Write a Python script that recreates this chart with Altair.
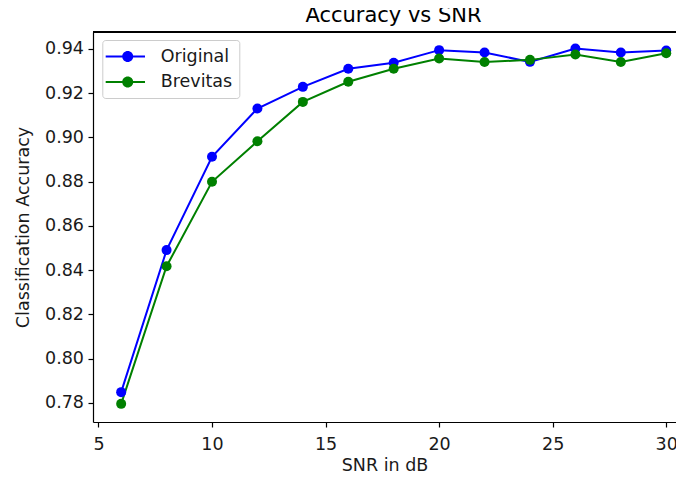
import altair as alt
import pandas as pd

# ---- data ----
snr = [6, 8, 10, 12, 14, 16, 18, 20, 22, 24, 26, 28, 30]
original = [0.7848, 0.8490, 0.8912, 0.9130, 0.9228, 0.9310, 0.9337,
            0.9394, 0.9383, 0.9341, 0.9401, 0.9383, 0.9392]
brevitas = [0.7795, 0.8417, 0.8799, 0.8982, 0.9160, 0.9251, 0.9310,
            0.9356, 0.9340, 0.9350, 0.9374, 0.9340, 0.9380]
series_names = ["Original", "Brevitas"]
series_colors = ["#0000ff", "#008000"]
x_ticks = [5, 10, 15, 20, 25, 30]
y_ticks = [0.78, 0.80, 0.82, 0.84, 0.86, 0.88, 0.90, 0.92, 0.94]

rows = []
for name, vals in zip(series_names, [original, brevitas]):
    for s, v in zip(snr, vals):
        rows.append({"snr": s, "acc": v, "series": name})
df = pd.DataFrame(rows)

FONT = "DejaVu Sans"
W, H = 583, 390
xscale = alt.Scale(domain=[4.76, 30.43], nice=False, zero=False)
yscale = alt.Scale(domain=[0.7713, 0.9476], nice=False, zero=False)
cscale = alt.Scale(domain=series_names, range=series_colors)

legend_path = ("M-1.38,-0.105L2.76,-0.105L2.76,0.105L-1.38,0.105Z"
               "M1.52,0A0.58,0.58,0,1,1,0.36,0A0.58,0.58,0,1,1,1.52,0Z")
legend = alt.Legend(title=None, orient="none", legendX=9.3, legendY=8,
                    symbolType=legend_path, symbolSize=361, symbolStrokeWidth=0,
                    symbolOpacity=1, labelFontSize=17.5, labelFont=FONT,
                    labelColor="#1a1a1a", labelOffset=32.4, padding=7,
                    rowPadding=7.6, fillColor="white", strokeColor="#cccccc",
                    cornerRadius=3)

x_axis = alt.Axis(values=x_ticks, title="SNR in dB", format="d",
                  labelPadding=8, titlePadding=4)
y_axis = alt.Axis(values=y_ticks, format=".2f", title="Classification Accuracy",
                  labelPadding=4.5, titlePadding=12)

# top spine of the frame
top_spine = alt.Chart(df).mark_rule(color="black", strokeWidth=1.2).encode(
    x=alt.value(0), x2=alt.value(W), y=alt.value(0)
)

layers = [top_spine]
for name in series_names:
    line = alt.Chart(df).transform_filter(alt.datum.series == name).mark_line(
        strokeWidth=2
    ).encode(
        x=alt.X("snr:Q", scale=xscale, axis=None),
        y=alt.Y("acc:Q", scale=yscale, axis=None),
        color=alt.Color("series:N", scale=cscale, legend=None),
    )
    layers.append(line)

points = alt.Chart(df).mark_circle(size=100, opacity=1).encode(
    x=alt.X("snr:Q", scale=xscale, axis=x_axis),
    y=alt.Y("acc:Q", scale=yscale, axis=y_axis),
    color=alt.Color("series:N", scale=cscale, legend=legend),
)
layers.append(points)

chart = alt.layer(*layers).resolve_axis(
    x="independent", y="independent"
).resolve_legend(color="independent").properties(
    width=W, height=H,
    title=alt.TitleParams("Accuracy vs SNR", fontSize=21, font=FONT,
                          fontWeight="normal", color="black", anchor="middle",
                          frame="group", dx=9, offset=5),
    autosize=alt.AutoSizeParams(type="none"),
    padding={"left": 85, "top": 24, "right": 0, "bottom": 49},
).configure_view(stroke=None).configure_axis(
    grid=False, domainColor="black", tickColor="black", domainWidth=1.2,
    tickWidth=1.2, tickSize=5, labelFont=FONT, titleFont=FONT,
    labelFontSize=17.5, titleFontSize=17.5, titleFontWeight="normal",
    labelColor="#1a1a1a", titleColor="#1a1a1a",
)

chart.save("out.html", embed_options={"renderer": "svg", "actions": False})
